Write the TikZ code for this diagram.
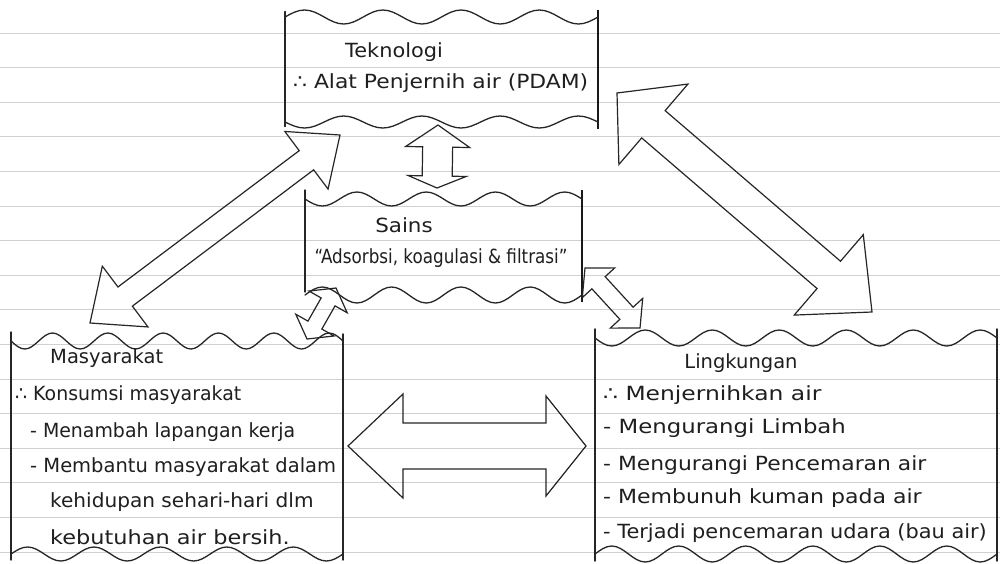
\documentclass[tikz,border=0pt]{standalone}
\usepackage{fontspec}
\setmainfont{DejaVu Sans}
\usetikzlibrary{calc}
\tikzset{
  ink/.style={draw=black!85, line width=1.4pt, line join=round, line cap=round},
  thickink/.style={draw=black!90, line width=2.4pt},
  wv/.style={draw=black!85, line width=1.3pt, line cap=round},
  arrink/.style={draw=black!85, line width=1.2pt, line join=miter},
  paper/.style={draw=black!18, line width=0.9pt},
  boxarea/.style={inner sep=0pt, outer sep=0pt},
  txt/.style={inner sep=0pt, text=black!88, font=\fontsize{19.5}{23}\selectfont},
  lt/.style={txt, anchor=west},
}
% #1 x0, #2 x1, #3 y, #4 amplitude (signed), #5 number of periods
\newcommand\wavy[5]{%
  \draw[wv] (#1,#3) \foreach \i in {1,...,#5} {
     sin ++({(#2-#1)/(4*#5)},{-(#4)}) cos ++({(#2-#1)/(4*#5)},{#4})
     sin ++({(#2-#1)/(4*#5)},{#4}) cos ++({(#2-#1)/(4*#5)},{-(#4)}) };}
\newcommand\dblarr[7]{%
  \draw[arrink] (#1)
   -- ($(#1)!#4!(#2)!#5!90:(#2)$)
   -- ($(#1)!#4!(#2)!#3!90:(#2)$)
   -- ($(#2)!#6!(#1)!#3!-90:(#1)$)
   -- ($(#2)!#6!(#1)!#7!-90:(#1)$)
   -- (#2)
   -- ($(#2)!#6!(#1)!#7!90:(#1)$)
   -- ($(#2)!#6!(#1)!#3!90:(#1)$)
   -- ($(#1)!#4!(#2)!#3!-90:(#2)$)
   -- ($(#1)!#4!(#2)!#5!-90:(#2)$)
   -- cycle;}
\begin{document}
\begin{tikzpicture}[x=1pt,y=-1pt]
  \fill[white] (0,0) rectangle (1000,563);
  \useasboundingbox (0,0) rectangle (1000,563);
  % ruled paper
  \foreach \k in {0,...,15} \draw[paper] (0,{33+34.6*\k}) -- (1000,{33+34.6*\k});

  % box areas
  \node[boxarea, minimum width=313pt, minimum height=105pt] (tek) at (441.5,70) {};
  \node[boxarea, minimum width=277pt, minimum height=98pt] (sains) at (443.5,247) {};
  \node[boxarea, minimum width=332pt, minimum height=212pt] (masy) at (177,446) {};
  \node[boxarea, minimum width=402pt, minimum height=216pt] (ling) at (796,445) {};

  % Teknologi box
  \draw[ink] ($(tek.north west)+(0,-6)$) -- ($(tek.south west)+(0,4)$);
  \draw[thickink] ($(tek.north east)+(0,-8)$) -- ($(tek.south east)+(0,6)$);
  \wavy{285}{598}{17}{7}{4}
  \wavy{285}{598}{122}{-6}{4}
  % Sains box
  \draw[ink] ($(sains.north west)+(0,-8)$) -- ($(sains.south west)+(0,-4)$);
  \draw[thickink] ($(sains.north east)+(0,-8)$) -- ($(sains.south east)+(0,6)$);
  \wavy{305}{582}{199}{-7}{4}
  \wavy{305}{582}{295}{8}{4}
  % Masyarakat box
  \draw[ink] ($(masy.north west)+(0,-8)$) -- ($(masy.south west)+(0,8)$);
  \draw[ink] ($(masy.north east)+(0,-6)$) -- ($(masy.south east)+(0,8)$);
  \wavy{11}{343}{341}{-8}{6}
  \wavy{11}{343}{554}{7}{5}
  % Lingkungan box
  \draw[ink] ($(ling.north west)+(0,-8)$) -- ($(ling.south west)+(0,8)$);
  \draw[ink] ($(ling.north east)+(0,-8)$) -- ($(ling.south east)+(0,8)$);
  \wavy{595}{997}{338}{-8}{6}
  \wavy{595}{997}{554}{8}{6}

  % arrow end points
  \coordinate (a1) at (340,135);  \coordinate (b1) at (90,323);
  \coordinate (a2) at (617,93);   \coordinate (b2) at (872,312);
  \coordinate (a3) at (438,125);  \coordinate (b3) at (437,188);
  \coordinate (a4) at (336,288);  \coordinate (b4) at (307,339);
  \coordinate (a5) at (585,268);  \coordinate (b5) at (640,328);
  \coordinate (a6) at (348,446);  \coordinate (b6) at (586,446);

  \dblarr{a1}{b1}{12pt}{42pt}{36pt}{44pt}{38pt}
  \dblarr{a2}{b2}{18pt}{48pt}{53pt}{57pt}{53pt}
  \dblarr{a3}{b3}{15pt}{22pt}{32pt}{12pt}{29pt}
  \dblarr{a4}{b4}{8pt}{16pt}{22pt}{16pt}{22pt}
  \dblarr{a5}{b5}{9pt}{20pt}{22pt}{20pt}{22pt}
  \dblarr{a6}{b6}{23pt}{55pt}{52pt}{40pt}{50pt}

  % texts
  \node[txt] (t1) at (394,52) {\scalebox{1.07}[1]{Teknologi}};
  \node[lt] (t2) at (293,83) {\scalebox{1.12}[1]{∴ Alat Penjernih air (PDAM)}};
  \node[txt] (s1) at (404,225) {\scalebox{1.1}[1]{Sains}};
  \node[txt] (s2) at (441,258) {\scalebox{0.86}[1]{“Adsorbsi, koagulasi \& filtrasi”}};
  \node[lt] (m1) at (50,358) {Masyarakat};
  \node[lt] (m2) at (15,395) {\scalebox{0.97}[1]{∴ Konsumsi masyarakat}};
  \node[lt] (m3) at (30,432) {\scalebox{0.97}[1]{- Menambah lapangan kerja}};
  \node[lt] (m4) at (30,467) {- Membantu masyarakat dalam};
  \node[lt] (m5) at (50,502) {\scalebox{1.03}[1]{kehidupan sehari-hari dlm}};
  \node[lt] (m6) at (50,537) {\scalebox{1.15}[1]{kebutuhan air bersih.}};
  \node[txt] (l1) at (741,363) {Lingkungan};
  \node[lt] (l2) at (603,395) {\scalebox{1.2}[1]{∴ Menjernihkan air}};
  \node[lt] (l3) at (603,428) {\scalebox{1.17}[1]{- Mengurangi Limbah}};
  \node[lt] (l4) at (603,465) {\scalebox{1.12}[1]{- Mengurangi Pencemaran air}};
  \node[lt] (l5) at (603,498) {\scalebox{1.13}[1]{- Membunuh kuman pada air}};
  \node[lt] (l6) at (603,533) {\scalebox{1.07}[1]{- Terjadi pencemaran udara (bau air)}};
\end{tikzpicture}
\end{document}
